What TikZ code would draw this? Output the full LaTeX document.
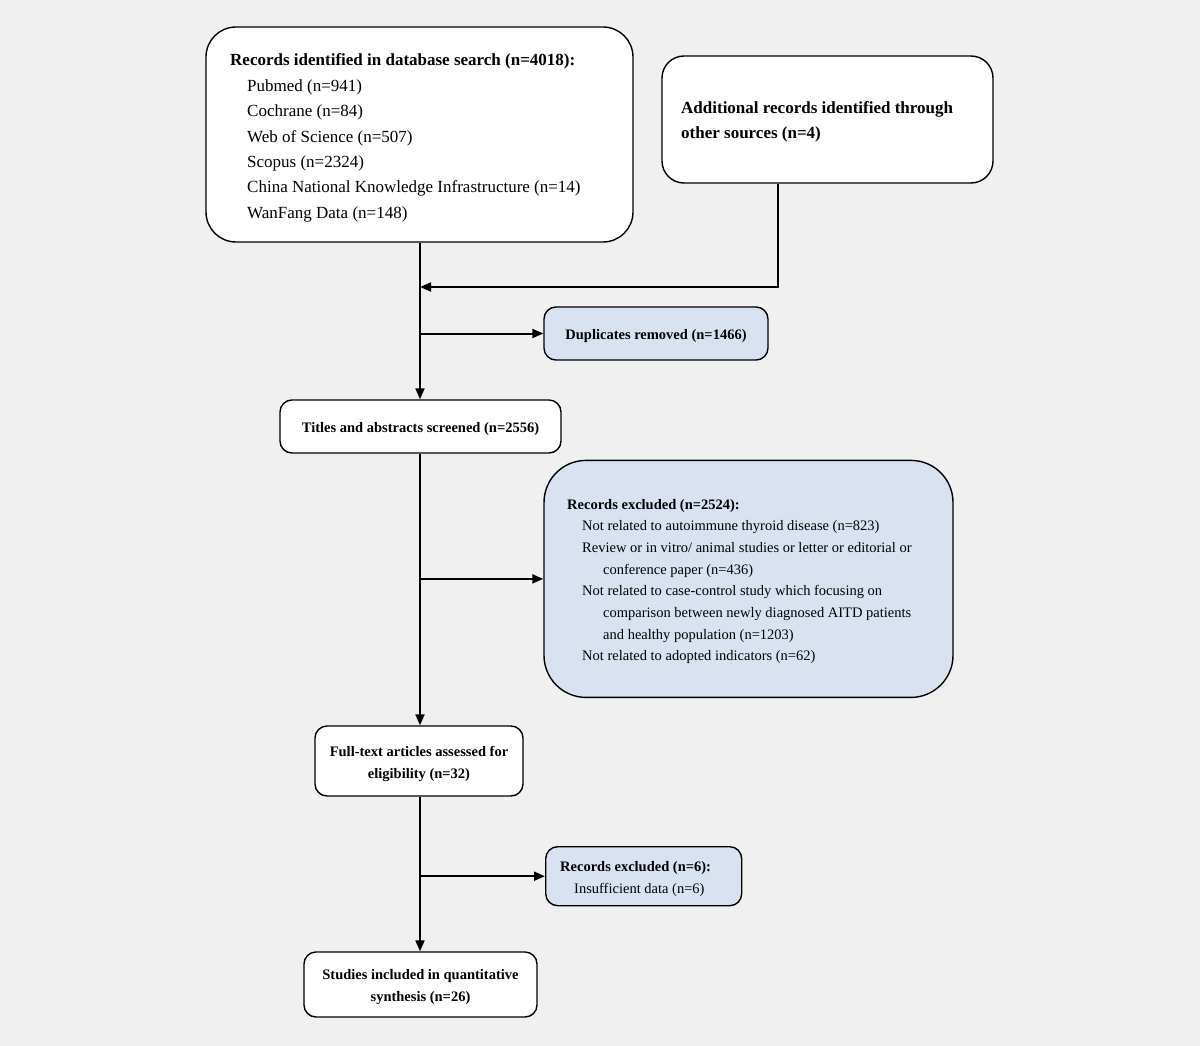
\documentclass[tikz,border=0pt]{standalone}
\usepackage{fontspec}
\setmainfont{Liberation Serif}
\usetikzlibrary{arrows.meta}
\definecolor{bgc}{HTML}{F0F0F0}
\definecolor{lblue}{HTML}{D9E2F0}
\begin{document}
\begin{tikzpicture}[x=1pt,y=-1pt,
  box/.style={draw=black, line width=1.4pt, fill=white, inner sep=0pt, rounded corners=#1},
  bluebox/.style={box=#1, fill=lblue},
  conn/.style={line width=2pt, draw=black},
  arr/.style={conn, -{Triangle[length=11pt,width=9pt]}},
  big/.style={font=\fontsize{17}{20}\selectfont},
  bigb/.style={font=\fontsize{17}{20}\selectfont\bfseries},
  small/.style={font=\fontsize{14.5}{22}\selectfont},
  smallb/.style={font=\fontsize{14.5}{22}\selectfont\bfseries},
  txt/.style={inner sep=0pt, anchor=base west},
  ctxt/.style={inner sep=0pt, align=center, smallb, yshift=-2.5pt},
]
\fill[bgc] (0,0) rectangle (1200,1046);
\useasboundingbox (0,0) rectangle (1200,1046);

% boxes
\node[box=30pt, minimum width=427pt, minimum height=215pt] (A) at (419.5,134.5) {};
\node[box=22pt, minimum width=331pt, minimum height=127pt] (B) at (827.5,119.5) {};
\node[bluebox=12pt, minimum width=224pt, minimum height=53pt] (D) at (656,333.5) {};
\node[box=12pt, minimum width=281pt, minimum height=53pt] (T) at (420.5,426.5) {};
\node[bluebox=42pt, minimum width=409pt, minimum height=237pt] (C) at (748.5,578.9) {};
\node[box=12pt, minimum width=208pt, minimum height=70pt] (F) at (419,761) {};
\node[bluebox=12pt, minimum width=196pt, minimum height=59pt] (R) at (643.7,876.2) {};
\node[box=12pt, minimum width=233pt, minimum height=65pt] (S) at (420.5,984.5) {};

% centred texts
\node[ctxt] (dt) at (D.center) {Duplicates removed (n=1466)};
\node[ctxt] (tt) at (T.center) {Titles and abstracts screened (n=2556)};
\node[ctxt] (ft) at (F.center) {Full-text articles assessed for\\eligibility (n=32)};
\node[ctxt] (st) at (S.center) {Studies included in quantitative\\synthesis (n=26)};

% texts in A
\node[txt, bigb] (a0) at (230,66) {Records identified in database search (n=4018):};
\node[txt, big] (a1) at (247,91.4) {Pubmed (n=941)};
\node[txt, big] (a2) at (247,116.8) {Cochrane (n=84)};
\node[txt, big] (a3) at (247,142.2) {Web of Science (n=507)};
\node[txt, big] (a4) at (247,167.6) {Scopus (n=2324)};
\node[txt, big] (a5) at (247,193) {China National Knowledge Infrastructure (n=14)};
\node[txt, big] (a6) at (247,218.4) {WanFang Data (n=148)};

% texts in B
\node[txt, bigb] (b1) at (681,113.5) {Additional records identified through};
\node[txt, bigb] (b2) at (681,138.5) {other sources (n=4)};

% texts in C
\node[txt, smallb] (c0) at (567,509) {Records excluded (n=2524):};
\node[txt, small] (c1) at (582,530.7) {Not related to autoimmune thyroid disease (n=823)};
\node[txt, small] (c2) at (582,552.4) {Review or in vitro/ animal studies or letter or editorial or};
\node[txt, small] (c3) at (603,574.1) {conference paper (n=436)};
\node[txt, small] (c4) at (582,595.8) {Not related to case-control study which focusing on};
\node[txt, small] (c5) at (603,617.5) {comparison between newly diagnosed AITD patients};
\node[txt, small] (c6) at (603,639.2) {and healthy population (n=1203)};
\node[txt, small] (c7) at (582,660.9) {Not related to adopted indicators (n=62)};

% texts in R
\node[txt, smallb] (r0) at (560,871.5) {Records excluded (n=6):};
\node[txt, small] (r1) at (574,893) {Insufficient data (n=6)};

% connectors
\coordinate (spine) at (420,0);
\coordinate (bturn) at (777.7,287);
\draw[arr] (A.south -| spine) -- (T.north -| spine);
\draw[arr] (B.south -| bturn) -- (bturn) -- (bturn -| spine);
\draw[arr] (spine |- D.west) -- (D.west);
\draw[arr] (T.south -| spine) -- (F.north -| spine);
\draw[arr] (spine |- C.west) -- (C.west);
\draw[arr] (F.south -| spine) -- (S.north -| spine);
\draw[arr] (spine |- R.west) -- (R.west);
\end{tikzpicture}
\end{document}
